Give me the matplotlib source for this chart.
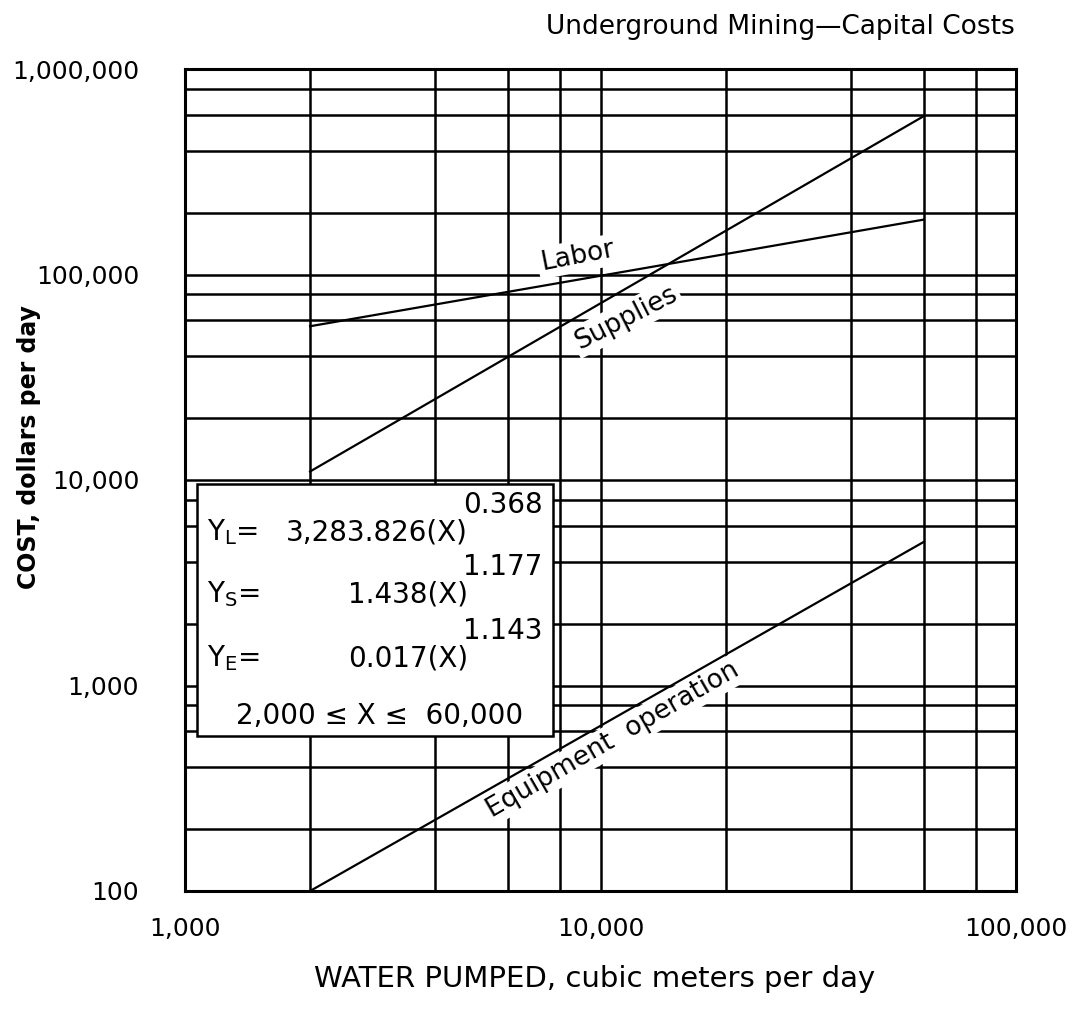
import numpy as np
import matplotlib
matplotlib.use("Agg")
import matplotlib.pyplot as plt
from matplotlib.ticker import FixedLocator, NullFormatter

# endpoints of each cost line (water pumped, cubic meters per day -> dollars per day)
water = [2000, 60000]
labor = [56000, 185000]
supplies = [11000, 590000]
equipment = [100, 5000]

x_ticks = [1000, 10000, 100000]
x_ticklabels = ["1,000", "10,000", "100,000"]
y_ticks = [100, 1000, 10000, 100000, 1000000]
y_ticklabels = ["100", "1,000", "10,000", "100,000", "1,000,000"]

plt.rcParams['font.family'] = ['DejaVu Sans']

fig = plt.figure(figsize=(10.83, 10.14), dpi=100)
ax = fig.add_axes([185 / 1083, 1 - 891 / 1014, 831 / 1083, 822 / 1014])
ax.set_xscale('log')
ax.set_yscale('log')
ax.set_xlim(1000, 100000)
ax.set_ylim(100, 1000000)

minor_x = [m * d for d in (1000, 10000) for m in (2, 4, 6, 8)]
minor_y = [m * d for d in (100, 1000, 10000, 100000) for m in (2, 4, 6, 8)]
ax.xaxis.set_major_locator(FixedLocator(x_ticks))
ax.yaxis.set_major_locator(FixedLocator(y_ticks))
ax.xaxis.set_minor_locator(FixedLocator(minor_x))
ax.yaxis.set_minor_locator(FixedLocator(minor_y))
ax.xaxis.set_minor_formatter(NullFormatter())
ax.yaxis.set_minor_formatter(NullFormatter())
ax.set_xticklabels(x_ticklabels)
ax.set_yticklabels(y_ticklabels)
ax.tick_params(which='both', length=0)
ax.tick_params(axis='x', labelsize=18, pad=19)
ax.tick_params(axis='y', labelsize=18, pad=33)
ax.grid(True, which='both', color='black', linewidth=1.8)
ax.set_axisbelow(True)
for s in ax.spines.values():
    s.set_linewidth(2.2)
    s.set_zorder(5)

for series in (labor, supplies, equipment):
    ax.plot(water, series, color='black', linewidth=1.6, zorder=3)

box = dict(facecolor='white', edgecolor='none', pad=2)
ax.text(0.472, 0.772, "Labor", rotation=11, fontsize=19, ha='center', va='center',
        transform=ax.transAxes, bbox=box, zorder=4)
ax.text(0.531, 0.697, "Supplies", rotation=27, fontsize=19, ha='center', va='center',
        transform=ax.transAxes, bbox=box, zorder=4)
ax.text(0.515, 0.184, "Equipment  operation", rotation=30, fontsize=19, ha='center',
        va='center', transform=ax.transAxes, bbox=box, zorder=4)


def px(x, y):
    # figure pixel position -> axes fraction
    return (x - 185) / 831, (891 - y) / 822


# equation panel
x0, y0 = px(197, 736)
x1, y1 = px(553, 484)
ax.add_patch(plt.Rectangle((x0, y0), x1 - x0, y1 - y0, transform=ax.transAxes,
                           facecolor='white', edgecolor='black', linewidth=1.8, zorder=6))

rows = [("L", "3,283.826", "0.368", 532),
        ("S", "1.438", "1.177", 594),
        ("E", "0.017", "1.143", 658)]
for sub, coef, expo, yy in rows:
    ax.text(*px(207, yy), r"Y$_\mathregular{%s}$=" % sub, fontsize=20, ha='left',
            va='center', transform=ax.transAxes, zorder=7)
    ax.text(*px(468, yy), coef + "(X)", fontsize=20, ha='right', va='center',
            transform=ax.transAxes, zorder=7)
    ax.text(*px(463, yy - 27), expo, fontsize=20, ha='left', va='center',
            transform=ax.transAxes, zorder=7)
ax.text(*px(380, 716), "2,000 \u2264 X \u2264  60,000", fontsize=20, ha='center',
        va='center', transform=ax.transAxes, zorder=7)

fig.text(1015 / 1083, 1 - 27 / 1014, "Underground Mining\u2014Capital Costs",
         fontsize=19, ha='right', va='center')
fig.text(595 / 1083, 1 - 979 / 1014, "WATER PUMPED, cubic meters per day",
         fontsize=21, ha='center', va='center')
fig.text(29 / 1083, 1 - 447 / 1014, "COST, dollars per day", fontsize=17,
         fontweight='bold', rotation=90, ha='center', va='center')

fig.savefig("out.png", dpi=100)
